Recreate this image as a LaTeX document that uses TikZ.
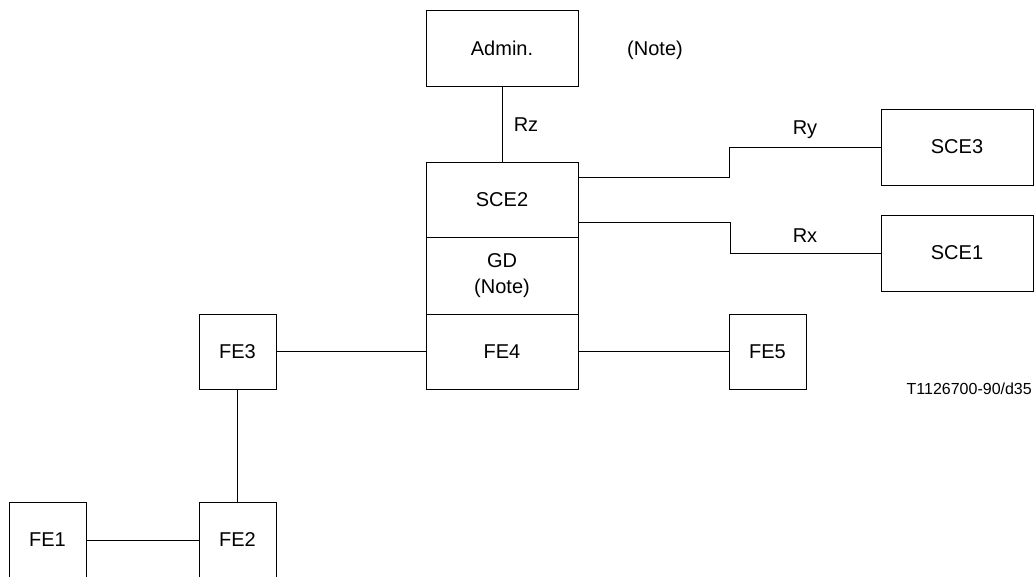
\documentclass[tikz,border=0pt]{standalone}
\usepackage{fontspec}
\setmainfont{Liberation Sans}
\begin{document}
\begin{tikzpicture}[x=1pt,y=-1pt,
  box/.style={draw=black,line width=0.8pt,minimum width=152pt,minimum height=76pt,inner sep=0pt,font=\fontsize{20}{24}\selectfont,align=center},
  sbox/.style={box,minimum width=77pt},
  lbl/.style={font=\fontsize{20}{24}\selectfont,inner sep=0pt},
  wire/.style={draw=black,line width=0.8pt},
  thick wire/.style={draw=black,line width=1.3pt}]
\useasboundingbox (0,0) rectangle (1036,576);
\node[box] (admin) at (502,48) {Admin.};
\node[box,minimum height=75pt] (sce2) at (502,199.5) {SCE2};
\node[box,minimum height=77pt] (gd) at (502,275.5) {GD\\[2pt](Note)};
\node[box,minimum height=75pt] (fe4) at (502,351.5) {FE4};
\node[box] (sce3) at (957,147) {SCE3};
\node[box] (sce1) at (957,253) {SCE1};
\node[sbox,minimum height=75pt] (fe3) at (237.5,351.5) {FE3};
\node[sbox,minimum height=75pt] (fe5) at (767.5,351.5) {FE5};
\node[sbox] (fe2) at (237.5,540) {FE2};
\node[sbox] (fe1) at (47.5,540) {FE1};
\node[lbl] (note) at (655,50) {(Note)};
\node[lbl] (rz) at (526,125) {Rz};
\node[lbl] (ry) at (805,130) {Ry};
\node[lbl] (rx) at (805,236) {Rx};
\node[font=\fontsize{16}{19}\selectfont,inner sep=0pt,anchor=east] (ref) at (1032,389) {T1126700-90/d35};
\draw[wire] (admin.south) -- (sce2.north);
\draw[wire] ([yshift=22.5pt]sce2.east) -- ++(151,0) |- (sce3.west);
\draw[wire] ([yshift=-23pt]sce2.east) -- ++(152,0) |- (sce1.west);
\draw[thick wire] (fe3.east) -- (fe4.west);
\draw[thick wire] (fe4.east) -- (fe5.west);
\draw[wire] (fe3.south) -- (fe2.north);
\draw[wire] (fe1.east) -- (fe2.west);
\end{tikzpicture}
\end{document}
